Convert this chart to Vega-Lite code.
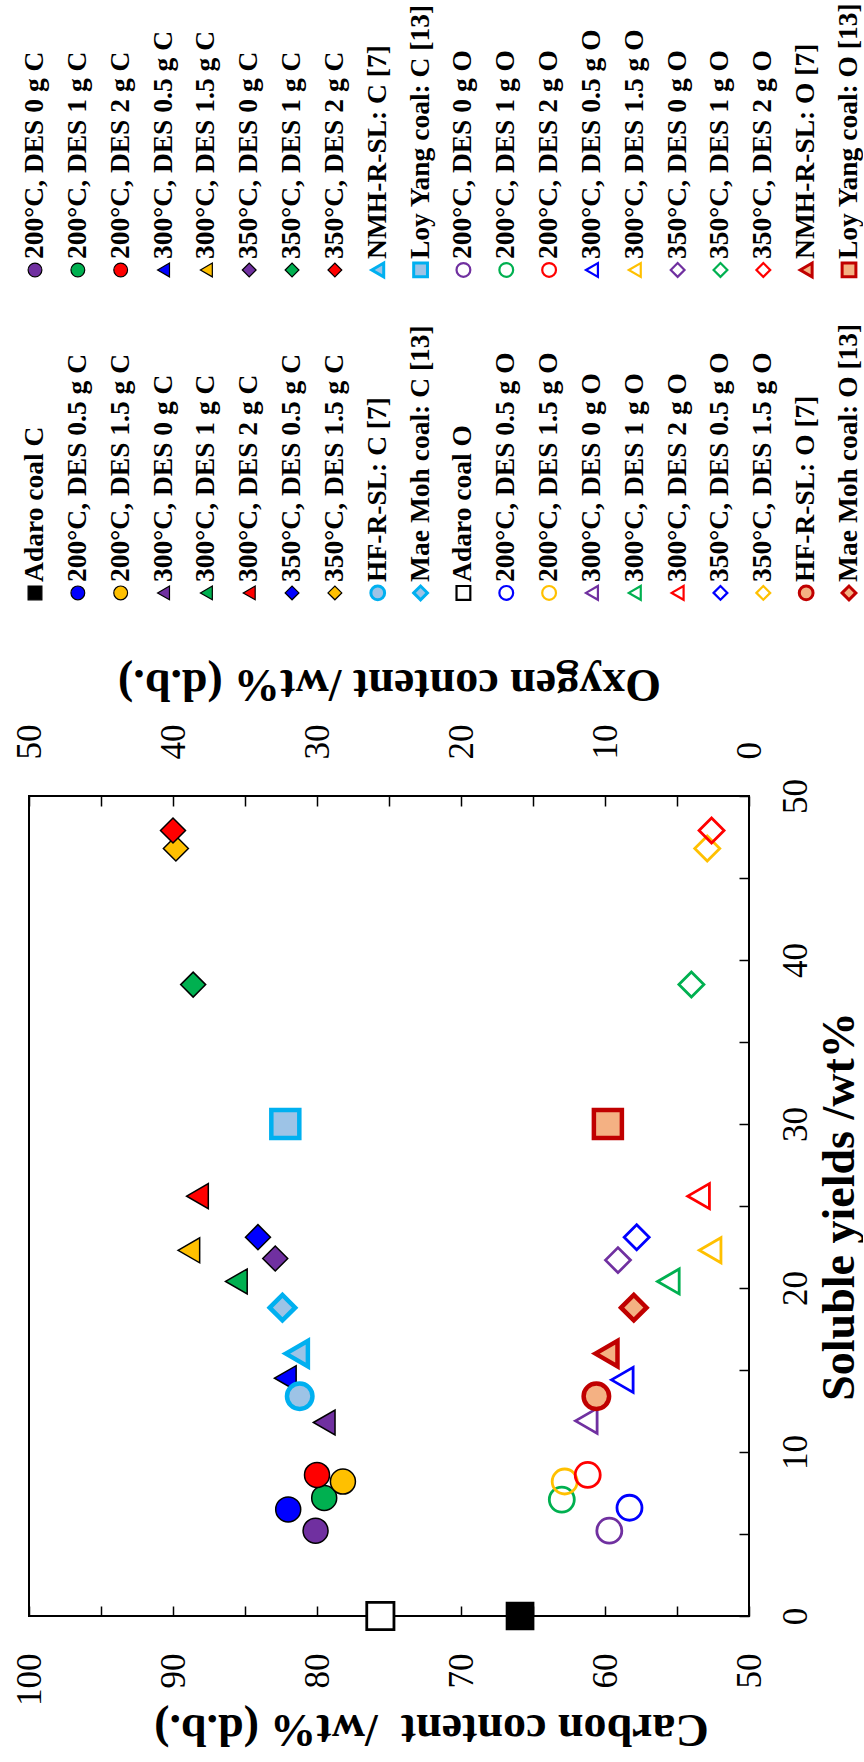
{
  "$schema": "https://vega.github.io/schema/vega-lite/v6.json",
  "background": "white",
  "padding": {"left": 10, "top": 0, "right": 0, "bottom": 24},
  "spacing": 52,
  "config": {
    "view": {"stroke": "black", "strokeWidth": 2},
    "font": "Liberation Serif",
    "axis": {
      "labelFont": "Liberation Serif", "labelFontSize": 35, "labelColor": "black",
      "labelOverlap": false, "labelFlush": false, "labelAngle": 270,
      "tickColor": "black", "tickWidth": 1.5, "tickSize": -10,
      "domain": false, "grid": false,
      "titleFont": "Liberation Serif", "titleFontSize": 46, "titleFontWeight": "bold", "titleColor": "black",
      "titleAlign": "center", "titleBaseline": "middle"
    }
  },
  "datasets": {
    "pts": [
      {"series": "Adaro coal C", "s": 0, "c": 65.9, "lr": 2, "lc": 0},
      {"series": "200°C, DES 0 g C", "s": 5.2, "c": 80.1, "lr": 1, "lc": 0},
      {"series": "200°C, DES 0.5 g C", "s": 6.5, "c": 82.0, "lr": 2, "lc": 1},
      {"series": "200°C, DES 1 g C", "s": 7.2, "c": 79.5, "lr": 1, "lc": 1},
      {"series": "200°C, DES 1.5 g C", "s": 8.2, "c": 78.2, "lr": 2, "lc": 2},
      {"series": "200°C, DES 2 g C", "s": 8.6, "c": 80.0, "lr": 1, "lc": 2},
      {"series": "300°C, DES 0 g C", "s": 11.8, "c": 79.5, "lr": 2, "lc": 3},
      {"series": "300°C, DES 0.5 g C", "s": 14.5, "c": 82.2, "lr": 1, "lc": 3},
      {"series": "300°C, DES 1 g C", "s": 20.4, "c": 85.6, "lr": 2, "lc": 4},
      {"series": "300°C, DES 1.5 g C", "s": 22.3, "c": 88.9, "lr": 1, "lc": 4},
      {"series": "300°C, DES 2 g C", "s": 25.6, "c": 88.3, "lr": 2, "lc": 5},
      {"series": "350°C, DES 0 g C", "s": 21.8, "c": 82.9, "lr": 1, "lc": 5},
      {"series": "350°C, DES 0.5 g C", "s": 23.1, "c": 84.1, "lr": 2, "lc": 6},
      {"series": "350°C, DES 1 g C", "s": 38.5, "c": 88.6, "lr": 1, "lc": 6},
      {"series": "350°C, DES 1.5 g C", "s": 46.8, "c": 89.8, "lr": 2, "lc": 7},
      {"series": "350°C, DES 2 g C", "s": 47.9, "c": 90.0, "lr": 1, "lc": 7},
      {"series": "HF-R-SL: C [7]", "s": 13.4, "c": 81.2, "lr": 2, "lc": 8},
      {"series": "NMH-R-SL: C [7]", "s": 16.0, "c": 81.4, "lr": 1, "lc": 8},
      {"series": "Mae Moh coal: C [13]", "s": 18.8, "c": 82.4, "lr": 2, "lc": 9},
      {"series": "Loy Yang coal: C [13]", "s": 30.0, "c": 82.2, "lr": 1, "lc": 9},
      {"series": "Adaro coal O", "s": 0, "o": 25.6, "lr": 2, "lc": 10},
      {"series": "200°C, DES 0 g O", "s": 5.2, "o": 9.7, "lr": 1, "lc": 10},
      {"series": "200°C, DES 0.5 g O", "s": 6.6, "o": 8.3, "lr": 2, "lc": 11},
      {"series": "200°C, DES 1 g O", "s": 7.1, "o": 13.0, "lr": 1, "lc": 11},
      {"series": "200°C, DES 1.5 g O", "s": 8.2, "o": 12.8, "lr": 2, "lc": 12},
      {"series": "200°C, DES 2 g O", "s": 8.6, "o": 11.2, "lr": 1, "lc": 12},
      {"series": "300°C, DES 0 g O", "s": 11.9, "o": 11.3, "lr": 2, "lc": 13},
      {"series": "300°C, DES 0.5 g O", "s": 14.4, "o": 8.8, "lr": 1, "lc": 13},
      {"series": "300°C, DES 1 g O", "s": 20.4, "o": 5.6, "lr": 2, "lc": 14},
      {"series": "300°C, DES 1.5 g O", "s": 22.3, "o": 2.7, "lr": 1, "lc": 14},
      {"series": "300°C, DES 2 g O", "s": 25.6, "o": 3.5, "lr": 2, "lc": 15},
      {"series": "350°C, DES 0 g O", "s": 21.7, "o": 9.1, "lr": 1, "lc": 15},
      {"series": "350°C, DES 0.5 g O", "s": 23.1, "o": 7.8, "lr": 2, "lc": 16},
      {"series": "350°C, DES 1 g O", "s": 38.5, "o": 4.0, "lr": 1, "lc": 16},
      {"series": "350°C, DES 1.5 g O", "s": 46.8, "o": 2.9, "lr": 2, "lc": 17},
      {"series": "350°C, DES 2 g O", "s": 47.9, "o": 2.6, "lr": 1, "lc": 17},
      {"series": "HF-R-SL: O [7]", "s": 13.4, "o": 10.6, "lr": 2, "lc": 18},
      {"series": "NMH-R-SL: O [7]", "s": 16.0, "o": 9.9, "lr": 1, "lc": 18},
      {"series": "Mae Moh coal: O [13]", "s": 18.8, "o": 8.0, "lr": 2, "lc": 19},
      {"series": "Loy Yang coal: O [13]", "s": 30.0, "o": 9.8, "lr": 1, "lc": 19}
    ]
  },
  "vconcat": [
    {
      "width": 820,
      "height": 600,
      "view": {"stroke": null},
      "data": {"name": "pts"},
      "encoding": {
        "x": {"field": "lc", "type": "quantitative", "scale": {"domain": [-0.14, 19], "nice": false, "zero": false}, "axis": null},
        "y": {"field": "lr", "type": "quantitative", "scale": {"domain": [0.164, 2.022], "reverse": true, "nice": false, "zero": false}, "axis": null}
      },
      "layer": [
        {
          "mark": {"type": "point", "filled": true, "opacity": 1, "size": 190},
          "encoding": {
            "fill": {"field": "series", "type": "nominal", "legend": null, "scale": {
              "domain": ["Adaro coal C", "200°C, DES 0 g C", "200°C, DES 0.5 g C", "200°C, DES 1 g C", "200°C, DES 1.5 g C", "200°C, DES 2 g C", "300°C, DES 0 g C", "300°C, DES 0.5 g C", "300°C, DES 1 g C", "300°C, DES 1.5 g C", "300°C, DES 2 g C", "350°C, DES 0 g C", "350°C, DES 0.5 g C", "350°C, DES 1 g C", "350°C, DES 1.5 g C", "350°C, DES 2 g C", "HF-R-SL: C [7]", "NMH-R-SL: C [7]", "Mae Moh coal: C [13]", "Loy Yang coal: C [13]", "Adaro coal O", "200°C, DES 0 g O", "200°C, DES 0.5 g O", "200°C, DES 1 g O", "200°C, DES 1.5 g O", "200°C, DES 2 g O", "300°C, DES 0 g O", "300°C, DES 0.5 g O", "300°C, DES 1 g O", "300°C, DES 1.5 g O", "300°C, DES 2 g O", "350°C, DES 0 g O", "350°C, DES 0.5 g O", "350°C, DES 1 g O", "350°C, DES 1.5 g O", "350°C, DES 2 g O", "HF-R-SL: O [7]", "NMH-R-SL: O [7]", "Mae Moh coal: O [13]", "Loy Yang coal: O [13]"],
              "range": ["#000000", "#7030A0", "#0000FF", "#00B050", "#FFC000", "#FF0000", "#7030A0", "#0000FF", "#00B050", "#FFC000", "#FF0000", "#7030A0", "#0000FF", "#00B050", "#FFC000", "#FF0000", "#9DC3E6", "#9DC3E6", "#9DC3E6", "#9DC3E6", "#FFFFFF", "transparent", "transparent", "transparent", "transparent", "transparent", "transparent", "transparent", "transparent", "transparent", "transparent", "transparent", "transparent", "transparent", "transparent", "transparent", "#F4B183", "#F4B183", "#F4B183", "#F4B183"]}},
            "stroke": {"field": "series", "type": "nominal", "legend": null, "scale": {
              "domain": ["Adaro coal C", "200°C, DES 0 g C", "200°C, DES 0.5 g C", "200°C, DES 1 g C", "200°C, DES 1.5 g C", "200°C, DES 2 g C", "300°C, DES 0 g C", "300°C, DES 0.5 g C", "300°C, DES 1 g C", "300°C, DES 1.5 g C", "300°C, DES 2 g C", "350°C, DES 0 g C", "350°C, DES 0.5 g C", "350°C, DES 1 g C", "350°C, DES 1.5 g C", "350°C, DES 2 g C", "HF-R-SL: C [7]", "NMH-R-SL: C [7]", "Mae Moh coal: C [13]", "Loy Yang coal: C [13]", "Adaro coal O", "200°C, DES 0 g O", "200°C, DES 0.5 g O", "200°C, DES 1 g O", "200°C, DES 1.5 g O", "200°C, DES 2 g O", "300°C, DES 0 g O", "300°C, DES 0.5 g O", "300°C, DES 1 g O", "300°C, DES 1.5 g O", "300°C, DES 2 g O", "350°C, DES 0 g O", "350°C, DES 0.5 g O", "350°C, DES 1 g O", "350°C, DES 1.5 g O", "350°C, DES 2 g O", "HF-R-SL: O [7]", "NMH-R-SL: O [7]", "Mae Moh coal: O [13]", "Loy Yang coal: O [13]"],
              "range": ["#000000", "#000000", "#000000", "#000000", "#000000", "#000000", "#000000", "#000000", "#000000", "#000000", "#000000", "#000000", "#000000", "#000000", "#000000", "#000000", "#00B0F0", "#00B0F0", "#00B0F0", "#00B0F0", "#000000", "#7030A0", "#0000FF", "#00B050", "#FFC000", "#FF0000", "#7030A0", "#0000FF", "#00B050", "#FFC000", "#FF0000", "#7030A0", "#0000FF", "#00B050", "#FFC000", "#FF0000", "#C00000", "#C00000", "#C00000", "#C00000"]}},
            "shape": {"field": "series", "type": "nominal", "legend": null, "scale": {
              "domain": ["Adaro coal C", "200°C, DES 0 g C", "200°C, DES 0.5 g C", "200°C, DES 1 g C", "200°C, DES 1.5 g C", "200°C, DES 2 g C", "300°C, DES 0 g C", "300°C, DES 0.5 g C", "300°C, DES 1 g C", "300°C, DES 1.5 g C", "300°C, DES 2 g C", "350°C, DES 0 g C", "350°C, DES 0.5 g C", "350°C, DES 1 g C", "350°C, DES 1.5 g C", "350°C, DES 2 g C", "HF-R-SL: C [7]", "NMH-R-SL: C [7]", "Mae Moh coal: C [13]", "Loy Yang coal: C [13]", "Adaro coal O", "200°C, DES 0 g O", "200°C, DES 0.5 g O", "200°C, DES 1 g O", "200°C, DES 1.5 g O", "200°C, DES 2 g O", "300°C, DES 0 g O", "300°C, DES 0.5 g O", "300°C, DES 1 g O", "300°C, DES 1.5 g O", "300°C, DES 2 g O", "350°C, DES 0 g O", "350°C, DES 0.5 g O", "350°C, DES 1 g O", "350°C, DES 1.5 g O", "350°C, DES 2 g O", "HF-R-SL: O [7]", "NMH-R-SL: O [7]", "Mae Moh coal: O [13]", "Loy Yang coal: O [13]"],
              "range": ["square", "circle", "circle", "circle", "circle", "circle", "triangle-left", "triangle-left", "triangle-left", "triangle-left", "triangle-left", "diamond", "diamond", "diamond", "diamond", "diamond", "circle", "triangle-left", "diamond", "square", "square", "circle", "circle", "circle", "circle", "circle", "triangle-left", "triangle-left", "triangle-left", "triangle-left", "triangle-left", "diamond", "diamond", "diamond", "diamond", "diamond", "circle", "triangle-left", "diamond", "square"]}},
            "strokeWidth": {"condition": [{"test": "indexof(datum.series, '[') >= 0", "value": 3}, {"test": "isValid(datum.o)", "value": 2.2}], "value": 1.2}
          }
        },
        {
          "mark": {"type": "text", "angle": 270, "align": "left", "baseline": "middle", "dx": 11, "font": "Liberation Serif", "fontWeight": "bold", "fontSize": 27.5, "color": "black"},
          "encoding": {"text": {"field": "series", "type": "nominal"}}
        }
      ]
    },
    {
      "width": 720,
      "height": 820,
      "data": {"name": "pts"},
      "encoding": {
        "y": {"field": "s", "type": "quantitative", "scale": {"domain": [0, 50], "nice": false, "zero": false},
          "axis": {"orient": "right", "title": "Soluble yields /wt%", "values": [0, 5, 10, 15, 20, 25, 30, 35, 40, 45, 50],
            "labelExpr": "datum.value % 10 == 0 ? datum.label : ''",
            "labelAngle": 270, "labelAlign": "center", "labelBaseline": "top", "labelPadding": 39,
            "titleAngle": 270, "titleX": 90, "titleY": 410}},
        "fill": {"field": "series", "type": "nominal", "legend": null, "scale": {
          "domain": ["Adaro coal C", "200°C, DES 0 g C", "200°C, DES 0.5 g C", "200°C, DES 1 g C", "200°C, DES 1.5 g C", "200°C, DES 2 g C", "300°C, DES 0 g C", "300°C, DES 0.5 g C", "300°C, DES 1 g C", "300°C, DES 1.5 g C", "300°C, DES 2 g C", "350°C, DES 0 g C", "350°C, DES 0.5 g C", "350°C, DES 1 g C", "350°C, DES 1.5 g C", "350°C, DES 2 g C", "HF-R-SL: C [7]", "NMH-R-SL: C [7]", "Mae Moh coal: C [13]", "Loy Yang coal: C [13]", "Adaro coal O", "200°C, DES 0 g O", "200°C, DES 0.5 g O", "200°C, DES 1 g O", "200°C, DES 1.5 g O", "200°C, DES 2 g O", "300°C, DES 0 g O", "300°C, DES 0.5 g O", "300°C, DES 1 g O", "300°C, DES 1.5 g O", "300°C, DES 2 g O", "350°C, DES 0 g O", "350°C, DES 0.5 g O", "350°C, DES 1 g O", "350°C, DES 1.5 g O", "350°C, DES 2 g O", "HF-R-SL: O [7]", "NMH-R-SL: O [7]", "Mae Moh coal: O [13]", "Loy Yang coal: O [13]"],
          "range": ["#000000", "#7030A0", "#0000FF", "#00B050", "#FFC000", "#FF0000", "#7030A0", "#0000FF", "#00B050", "#FFC000", "#FF0000", "#7030A0", "#0000FF", "#00B050", "#FFC000", "#FF0000", "#9DC3E6", "#9DC3E6", "#9DC3E6", "#9DC3E6", "#FFFFFF", "transparent", "transparent", "transparent", "transparent", "transparent", "transparent", "transparent", "transparent", "transparent", "transparent", "transparent", "transparent", "transparent", "transparent", "transparent", "#F4B183", "#F4B183", "#F4B183", "#F4B183"]}},
        "stroke": {"field": "series", "type": "nominal", "legend": null, "scale": {
          "domain": ["Adaro coal C", "200°C, DES 0 g C", "200°C, DES 0.5 g C", "200°C, DES 1 g C", "200°C, DES 1.5 g C", "200°C, DES 2 g C", "300°C, DES 0 g C", "300°C, DES 0.5 g C", "300°C, DES 1 g C", "300°C, DES 1.5 g C", "300°C, DES 2 g C", "350°C, DES 0 g C", "350°C, DES 0.5 g C", "350°C, DES 1 g C", "350°C, DES 1.5 g C", "350°C, DES 2 g C", "HF-R-SL: C [7]", "NMH-R-SL: C [7]", "Mae Moh coal: C [13]", "Loy Yang coal: C [13]", "Adaro coal O", "200°C, DES 0 g O", "200°C, DES 0.5 g O", "200°C, DES 1 g O", "200°C, DES 1.5 g O", "200°C, DES 2 g O", "300°C, DES 0 g O", "300°C, DES 0.5 g O", "300°C, DES 1 g O", "300°C, DES 1.5 g O", "300°C, DES 2 g O", "350°C, DES 0 g O", "350°C, DES 0.5 g O", "350°C, DES 1 g O", "350°C, DES 1.5 g O", "350°C, DES 2 g O", "HF-R-SL: O [7]", "NMH-R-SL: O [7]", "Mae Moh coal: O [13]", "Loy Yang coal: O [13]"],
          "range": ["#000000", "#000000", "#000000", "#000000", "#000000", "#000000", "#000000", "#000000", "#000000", "#000000", "#000000", "#000000", "#000000", "#000000", "#000000", "#000000", "#00B0F0", "#00B0F0", "#00B0F0", "#00B0F0", "#000000", "#7030A0", "#0000FF", "#00B050", "#FFC000", "#FF0000", "#7030A0", "#0000FF", "#00B050", "#FFC000", "#FF0000", "#7030A0", "#0000FF", "#00B050", "#FFC000", "#FF0000", "#C00000", "#C00000", "#C00000", "#C00000"]}},
        "shape": {"field": "series", "type": "nominal", "legend": null, "scale": {
          "domain": ["Adaro coal C", "200°C, DES 0 g C", "200°C, DES 0.5 g C", "200°C, DES 1 g C", "200°C, DES 1.5 g C", "200°C, DES 2 g C", "300°C, DES 0 g C", "300°C, DES 0.5 g C", "300°C, DES 1 g C", "300°C, DES 1.5 g C", "300°C, DES 2 g C", "350°C, DES 0 g C", "350°C, DES 0.5 g C", "350°C, DES 1 g C", "350°C, DES 1.5 g C", "350°C, DES 2 g C", "HF-R-SL: C [7]", "NMH-R-SL: C [7]", "Mae Moh coal: C [13]", "Loy Yang coal: C [13]", "Adaro coal O", "200°C, DES 0 g O", "200°C, DES 0.5 g O", "200°C, DES 1 g O", "200°C, DES 1.5 g O", "200°C, DES 2 g O", "300°C, DES 0 g O", "300°C, DES 0.5 g O", "300°C, DES 1 g O", "300°C, DES 1.5 g O", "300°C, DES 2 g O", "350°C, DES 0 g O", "350°C, DES 0.5 g O", "350°C, DES 1 g O", "350°C, DES 1.5 g O", "350°C, DES 2 g O", "HF-R-SL: O [7]", "NMH-R-SL: O [7]", "Mae Moh coal: O [13]", "Loy Yang coal: O [13]"],
          "range": ["square", "circle", "circle", "circle", "circle", "circle", "triangle-left", "triangle-left", "triangle-left", "triangle-left", "triangle-left", "diamond", "diamond", "diamond", "diamond", "diamond", "circle", "triangle-left", "diamond", "square", "square", "circle", "circle", "circle", "circle", "circle", "triangle-left", "triangle-left", "triangle-left", "triangle-left", "triangle-left", "diamond", "diamond", "diamond", "diamond", "diamond", "circle", "triangle-left", "diamond", "square"]}},
        "size": {"condition": [{"test": "indexof(datum.series, 'Loy') >= 0", "value": 784}, {"test": "indexof(datum.series, 'Adaro') >= 0", "value": 740}, {"test": "indexof(datum.series, '[') >= 0", "value": 650}], "value": 625},
        "strokeWidth": {"condition": [{"test": "indexof(datum.series, '[') >= 0", "value": 4.5}, {"test": "isValid(datum.o)", "value": 2.8}], "value": 1.5}
      },
      "layer": [
        {
          "transform": [{"filter": "isValid(datum.c)"}],
          "mark": {"type": "point", "filled": true, "opacity": 1},
          "encoding": {
            "x": {"field": "c", "type": "quantitative", "scale": {"domain": [50, 100], "reverse": true, "nice": false, "zero": false},
              "axis": {"orient": "bottom", "title": "Carbon content\u00a0 /wt% (d.b.)", "values": [50, 55, 60, 65, 70, 75, 80, 85, 90, 95, 100],
                "labelExpr": "datum.value % 10 == 0 ? datum.label : ''",
                "labelAngle": 270, "labelAlign": "right", "labelBaseline": "middle", "labelPadding": 47,
                "titleAngle": 180, "titleX": 402, "titleY": 112}}
          }
        },
        {
          "transform": [{"filter": "isValid(datum.o)"}],
          "mark": {"type": "point", "filled": true, "opacity": 1},
          "encoding": {
            "x": {"field": "o", "type": "quantitative", "scale": {"domain": [0, 50], "reverse": true, "nice": false, "zero": false},
              "axis": {"orient": "top", "title": "Oxygen content /wt% (d.b.)", "values": [0, 5, 10, 15, 20, 25, 30, 35, 40, 45, 50],
                "labelExpr": "datum.value % 10 == 0 ? datum.label : ''",
                "labelAngle": 270, "labelAlign": "left", "labelBaseline": "middle", "labelPadding": 47,
                "titleAngle": 180, "titleX": 360, "titleY": -113}}
          }
        }
      ],
      "resolve": {"scale": {"x": "independent"}, "axis": {"x": "independent"}}
    }
  ]
}
